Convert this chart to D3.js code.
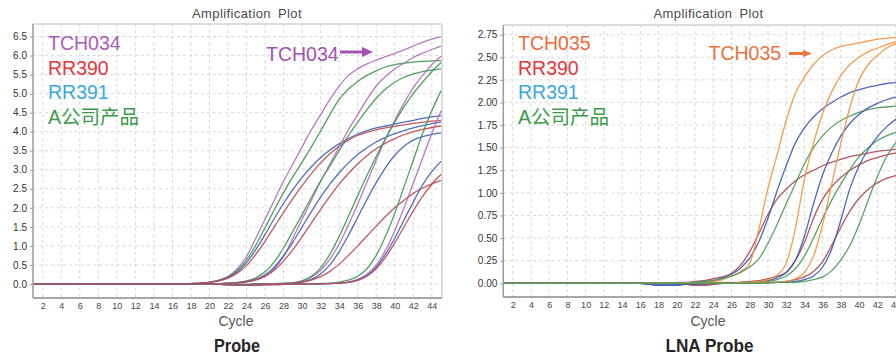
<!DOCTYPE html>
<html>
<head>
<meta charset="utf-8">
<script src="https://cdn.jsdelivr.net/npm/d3@7"></script>
<style>
  body { margin: 0; background: #fff; }
  svg { display: block; }
</style>
</head>
<body>
<svg id="chart" width="896" height="358"></svg>
<script>
// every series array starts at this cycle, the curve sits on the 0 baseline before it
const FIRST_CYCLE = 17;
const cycles = d3.range(1, 46);
const cycleTicks = d3.range(2, 45, 2);
const probeTicks = [0, 0.5, 1, 1.5, 2, 2.5, 3, 3.5, 4, 4.5, 5, 5.5, 6, 6.5];
const lnaTicks = [0, 0.25, 0.5, 0.75, 1, 1.25, 1.5, 1.75, 2, 2.25, 2.5, 2.75];

const probeLegend = ['TCH034', 'RR390', 'RR391', 'A公司产品'];
const lnaLegend = ['TCH035', 'RR390', 'RR391', 'A公司产品'];

// Probe panel, four dilutions (A..D) per product
const tch034A = [0,0.01,0.02,0.05,0.1,0.2,0.4,0.72,1.2,1.7,2.2,2.7,3.15,3.6,4.05,4.45,4.85,5.2,5.48,5.65,5.78,5.88,5.97,6.06,6.15,6.25,6.35,6.43,6.5];
const tch034B = [0,0,0,0,0.01,0.01,0.02,0.05,0.1,0.2,0.4,0.72,1.2,1.7,2.2,2.7,3.15,3.6,4.05,4.45,4.85,5.2,5.45,5.65,5.8,5.95,6.06,6.16,6.25];
const tch034C = [0,0,0,0,0,-0.01,-0.01,-0.01,0,0,0.01,0.01,0.03,0.08,0.18,0.36,0.65,1.05,1.55,2.1,2.68,3.25,3.8,4.3,4.75,5.15,5.48,5.76,5.98];
const tch034D = [0,0,0,0,-0.01,-0.02,-0.02,-0.02,-0.02,-0.02,-0.01,-0.01,0,0,0,0.01,0.01,0.02,0.05,0.12,0.26,0.5,0.88,1.4,2.0,2.65,3.3,3.95,4.55];

const companyA = [0,0.01,0.02,0.04,0.09,0.18,0.35,0.63,1.02,1.48,1.95,2.4,2.82,3.2,3.6,4.02,4.45,4.85,5.12,5.32,5.48,5.6,5.7,5.76,5.8,5.83,5.85,5.86,5.87];
const companyB = [0,0,0,0.01,0.01,0.02,0.04,0.08,0.16,0.32,0.58,0.95,1.38,1.82,2.27,2.7,3.1,3.5,3.9,4.25,4.58,4.88,5.12,5.3,5.43,5.52,5.58,5.62,5.65];
const companyC = [0,0,0,0,0,-0.01,-0.01,-0.01,0,0,0.01,0.02,0.03,0.08,0.2,0.42,0.78,1.25,1.78,2.32,2.85,3.35,3.82,4.25,4.65,5.0,5.3,5.58,5.82];
const companyD = [0,0,0,0,-0.01,-0.02,-0.02,-0.02,-0.02,-0.02,-0.01,-0.01,0,0,0,0.01,0.02,0.05,0.1,0.2,0.4,0.75,1.25,1.85,2.55,3.25,3.95,4.55,5.08];

const rr391A = [0,0.01,0.02,0.04,0.08,0.16,0.31,0.56,0.9,1.3,1.72,2.12,2.48,2.8,3.08,3.32,3.52,3.68,3.82,3.94,4.03,4.1,4.15,4.2,4.25,4.3,4.35,4.39,4.42];
const rr391B = [0,0,0,0.01,0.01,0.02,0.03,0.06,0.12,0.24,0.44,0.74,1.1,1.5,1.9,2.28,2.62,2.92,3.18,3.4,3.58,3.73,3.85,3.95,4.03,4.1,4.16,4.21,4.25];
const rr391C = [0,0,0,0,-0.01,-0.02,-0.02,-0.02,-0.01,0,0,0.01,0.02,0.05,0.12,0.26,0.5,0.85,1.28,1.75,2.22,2.66,3.05,3.38,3.62,3.78,3.87,3.93,3.97];
const rr391D = [0,0,0,0,-0.01,-0.02,-0.03,-0.03,-0.03,-0.02,-0.02,-0.01,-0.01,0,0,0,0.01,0.02,0.04,0.1,0.22,0.44,0.78,1.2,1.68,2.15,2.6,2.95,3.22];

const rr390A = [0,0.01,0.02,0.04,0.08,0.15,0.28,0.48,0.78,1.12,1.5,1.88,2.24,2.58,2.9,3.18,3.42,3.62,3.78,3.9,3.98,4.05,4.1,4.14,4.18,4.22,4.25,4.28,4.3];
const rr390B = [0,0,0,0.01,0.01,0.02,0.03,0.06,0.11,0.2,0.36,0.6,0.9,1.24,1.6,1.96,2.3,2.62,2.9,3.15,3.37,3.55,3.7,3.82,3.92,4.0,4.06,4.11,4.15];
const rr390C = [0,0,0,0,-0.01,-0.02,-0.02,-0.02,-0.01,0,0,0.01,0.02,0.05,0.1,0.19,0.33,0.52,0.75,1.0,1.26,1.52,1.77,2.0,2.2,2.38,2.52,2.63,2.72];
const rr390D = [0,0,0,0,-0.01,-0.02,-0.03,-0.03,-0.03,-0.02,-0.02,-0.01,-0.01,0,0,0,0.01,0.02,0.04,0.09,0.2,0.4,0.7,1.08,1.5,1.92,2.3,2.62,2.88];

// LNA probe panel, three dilutions per product
const tch035A = [0,0,0,0,0,0.01,0.01,0.02,0.04,0.08,0.13,0.22,0.6,1.05,1.42,1.8,2.1,2.28,2.42,2.52,2.58,2.62,2.64,2.66,2.68,2.7,2.71,2.72,2.73];
const tch035B = [0,0,0,0,0,0,0,0.01,0.01,0.01,0.01,0.01,0.02,0.04,0.09,0.22,0.6,1.15,1.55,1.88,2.12,2.3,2.42,2.5,2.56,2.6,2.64,2.67,2.69];
const tch035C = [0,0,0,0,0,0,0,0,0,0,0.01,0.01,0.01,0.01,0.01,0.02,0.05,0.12,0.3,0.65,1.1,1.55,1.95,2.25,2.42,2.52,2.6,2.65,2.68];

const lnaRr391A = [-0.01,-0.02,-0.02,-0.02,-0.01,0.01,0.02,0.03,0.06,0.1,0.17,0.28,0.46,0.72,1.02,1.3,1.55,1.72,1.84,1.93,2.0,2.06,2.11,2.14,2.17,2.19,2.21,2.22,2.23];
const lnaRr391B = [-0.01,-0.02,-0.02,-0.02,-0.01,-0.01,0,0,0,0,0.01,0.01,0.02,0.03,0.06,0.12,0.25,0.52,0.88,1.2,1.44,1.63,1.77,1.87,1.94,1.99,2.03,2.06,2.08];
const lnaRr391C = [-0.01,-0.02,-0.02,-0.02,-0.01,-0.01,-0.01,0,0,0,0,0,0,0.01,0.01,0.01,0.02,0.04,0.08,0.18,0.38,0.7,1.05,1.3,1.48,1.62,1.73,1.81,1.86];

const lnaCompanyA = [0,0,0,0,0,0.01,0.02,0.03,0.05,0.08,0.12,0.18,0.27,0.44,0.65,0.88,1.1,1.32,1.5,1.63,1.73,1.8,1.85,1.89,1.92,1.94,1.95,1.96,1.97];
const lnaCompanyB = [0,0,0,0,0,0,0,0,0,0,0,0.01,0.01,0.02,0.04,0.08,0.16,0.3,0.5,0.72,0.92,1.1,1.26,1.4,1.5,1.58,1.63,1.67,1.7];
const lnaCompanyC = [0,0,0,0,0,0,0,0,0,0,0,0,0,0,0.01,0.01,0.01,0.02,0.04,0.07,0.14,0.26,0.42,0.65,0.92,1.18,1.4,1.55,1.65];

const lnaRr390A = [0,0,0,0.01,0.01,0.02,0.03,0.05,0.07,0.11,0.2,0.35,0.55,0.76,0.93,1.04,1.13,1.2,1.25,1.3,1.34,1.37,1.4,1.42,1.44,1.46,1.47,1.48,1.49];
const lnaRr390B = [0,0,0,0,-0.01,-0.02,-0.02,-0.01,0,0,0.01,0.02,0.03,0.05,0.08,0.12,0.25,0.45,0.72,0.93,1.07,1.17,1.25,1.31,1.36,1.39,1.42,1.44,1.45];
const lnaRr390C = [0,0,0,0,-0.01,-0.02,-0.02,-0.01,0,0,0,0,0,0.01,0.01,0.02,0.04,0.07,0.13,0.24,0.42,0.62,0.8,0.94,1.04,1.11,1.16,1.19,1.21];

const probeColors = { tch: '#b36cbe', rr390: '#c24a53', rr391: '#4262b8', company: '#3f9a4f' };
const lnaColors = { tch: '#f7923f', rr390: '#b04652', rr391: '#3e5bb5', company: '#4b9b5a' };
const legendColors = ['#a75fb5', '#e8343a', '#3ca8dc', '#3a9a48'];

const panels = [
  {
    id: 'probe',
    left: 33, right: 442, top: 24, bottom: 298,
    xDomain: [0.95, 45.1], yDomain: [-0.37, 6.83],
    yTicks: probeTicks, yFormat: d3.format('.1f'),
    titleX: 247, cycleX: 236, name: 'Probe', nameX: 237, nameLen: 46,
    legend: probeLegend, legendX: 48, legendFirst: '#a75fb5',
    note: { text: 'TCH034', x: 266, y: 61, color: '#a352b3', x1: 340, x2: 373, ay: 52, head: 11, hh: 5 },
    series: [
      [tch034A, 'tch'], [companyA, 'company'], [rr391A, 'rr391'], [rr390A, 'rr390'],
      [tch034B, 'tch'], [companyB, 'company'], [rr391B, 'rr391'], [rr390B, 'rr390'],
      [tch034C, 'tch'], [companyC, 'company'], [rr391C, 'rr391'], [rr390C, 'rr390'],
      [tch034D, 'tch'], [companyD, 'company'], [rr391D, 'rr391'], [rr390D, 'rr390']
    ],
    colors: probeColors
  },
  {
    id: 'lna',
    left: 503.3, right: 905.6, top: 25, bottom: 297,
    xDomain: [0.97, 45.1], yDomain: [-0.152, 2.857],
    yTicks: lnaTicks, yFormat: d3.format('.2f'),
    titleX: 708.5, cycleX: 708, name: 'LNA Probe', nameX: 709.5, nameLen: 88,
    legend: lnaLegend, legendX: 518, legendFirst: '#f06a3c',
    note: { text: 'TCH035', x: 708.5, y: 60, color: '#ea743c', x1: 789, x2: 812, ay: 53.5, head: 9, hh: 3.5 },
    series: [
      [lnaRr390A, 'rr390'], [lnaRr391A, 'rr391'], [tch035A, 'tch'], [lnaCompanyA, 'company'],
      [lnaRr390B, 'rr390'], [lnaRr391B, 'rr391'], [tch035B, 'tch'], [lnaCompanyB, 'company'],
      [lnaRr390C, 'rr390'], [lnaRr391C, 'rr391'], [tch035C, 'tch'], [lnaCompanyC, 'company']
    ],
    colors: lnaColors
  }
];

const svg = d3.select('#chart');
const sans = '"Liberation Sans", Arial, Helvetica, sans-serif';
const legendFont = '"Liberation Sans", Arial, "Noto Sans CJK SC", sans-serif';

panels.forEach(p => {
  const x = d3.scaleLinear().domain(p.xDomain).range([p.left, p.right]);
  const y = d3.scaleLinear().domain(p.yDomain).range([p.bottom, p.top]);
  const g = svg.append('g');

  // grid
  g.append('g').selectAll('line')
    .data(cycleTicks)
    .join('line')
    .attr('x1', d => x(d)).attr('x2', d => x(d))
    .attr('y1', p.top).attr('y2', p.bottom)
    .attr('stroke', '#d9d9d9').attr('stroke-dasharray', '3,3');
  g.append('g').selectAll('line')
    .data(p.yTicks)
    .join('line')
    .attr('x1', p.left).attr('x2', p.right)
    .attr('y1', d => y(d)).attr('y2', d => y(d))
    .attr('stroke', '#d9d9d9').attr('stroke-dasharray', '3,3');

  // frame
  g.append('line').attr('x1', p.left).attr('x2', p.right).attr('y1', p.top).attr('y2', p.top)
    .attr('stroke', '#d2d2d2').attr('stroke-width', 1.5);
  g.append('line').attr('x1', p.right).attr('x2', p.right).attr('y1', p.top).attr('y2', p.bottom)
    .attr('stroke', '#d2d2d2').attr('stroke-width', 1.5);

  // curves
  const clipId = 'clip-' + p.id;
  svg.append('clipPath').attr('id', clipId)
    .append('rect').attr('x', p.left).attr('y', p.top)
    .attr('width', p.right - p.left).attr('height', p.bottom - p.top);

  const line = d3.line()
    .x(d => x(d[0]))
    .y(d => y(d[1]))
    .curve(d3.curveMonotoneX);

  g.append('g').attr('clip-path', `url(#${clipId})`)
    .selectAll('path')
    .data(p.series)
    .join('path')
    .attr('fill', 'none')
    .attr('stroke', d => p.colors[d[1]])
    .attr('stroke-width', 1.3)
    .attr('stroke-opacity', 0.92)
    .attr('d', d => line(cycles.map(c => [c, c < FIRST_CYCLE ? 0 : d[0][c - FIRST_CYCLE]])));

  // axes
  g.append('line').attr('x1', p.left).attr('x2', p.left).attr('y1', p.top).attr('y2', p.bottom)
    .attr('stroke', '#9a9a9a').attr('stroke-width', 1.5);
  g.append('line').attr('x1', p.left).attr('x2', p.right).attr('y1', p.bottom).attr('y2', p.bottom)
    .attr('stroke', '#8a8a8a').attr('stroke-width', 1.5);

  const yAxis = g.append('g')
    .attr('transform', `translate(${p.left},0)`)
    .call(d3.axisLeft(y).tickValues(p.yTicks).tickSize(3).tickPadding(3).tickFormat(p.yFormat));
  yAxis.select('.domain').remove();
  yAxis.selectAll('line').attr('stroke', '#999');
  yAxis.selectAll('text').attr('fill', '#333').style('font-family', sans).style('font-size', '10px');

  const xAxis = g.append('g')
    .attr('transform', `translate(0,${p.bottom})`)
    .call(d3.axisBottom(x).tickValues(cycleTicks).tickSize(0).tickPadding(5));
  xAxis.select('.domain').remove();
  xAxis.selectAll('text').attr('fill', '#444').style('font-family', sans).style('font-size', '9px');

  // titles
  g.append('text').attr('x', p.titleX).attr('y', 18.3)
    .attr('text-anchor', 'middle').attr('fill', '#4a4a4a')
    .style('font-family', sans).style('font-size', '13px')
    .style('letter-spacing', '0.4px').style('word-spacing', '3px')
    .text('Amplification Plot');

  g.append('text').attr('x', p.cycleX).attr('y', 325.5)
    .attr('text-anchor', 'middle').attr('fill', '#555')
    .style('font-family', sans).style('font-size', '14px')
    .text('Cycle');

  g.append('text').attr('x', p.nameX).attr('y', 351.7)
    .attr('text-anchor', 'middle').attr('fill', '#262626')
    .attr('textLength', p.nameLen).attr('lengthAdjust', 'spacingAndGlyphs')
    .style('font-family', sans).style('font-size', '18px').style('font-weight', 'bold')
    .text(p.name);

  // legend
  g.append('g').selectAll('text')
    .data(p.legend)
    .join('text')
    .attr('x', p.legendX)
    .attr('y', (d, i) => 50 + i * 24.7)
    .attr('fill', (d, i) => i === 0 ? p.legendFirst : legendColors[i])
    .style('font-family', legendFont).style('font-size', '19.5px')
    .text(d => d);

  // arrow note
  const n = p.note;
  g.append('text').attr('x', n.x).attr('y', n.y).attr('fill', n.color)
    .style('font-family', sans).style('font-size', '19.5px')
    .text(n.text);
  g.append('line').attr('x1', n.x1).attr('x2', n.x2 - n.head + 1)
    .attr('y1', n.ay).attr('y2', n.ay)
    .attr('stroke', n.color).attr('stroke-width', 3);
  g.append('path')
    .attr('d', `M${n.x2},${n.ay} L${n.x2 - n.head},${n.ay - n.hh} L${n.x2 - n.head},${n.ay + n.hh} Z`)
    .attr('fill', n.color);
});
</script>
</body>
</html>
